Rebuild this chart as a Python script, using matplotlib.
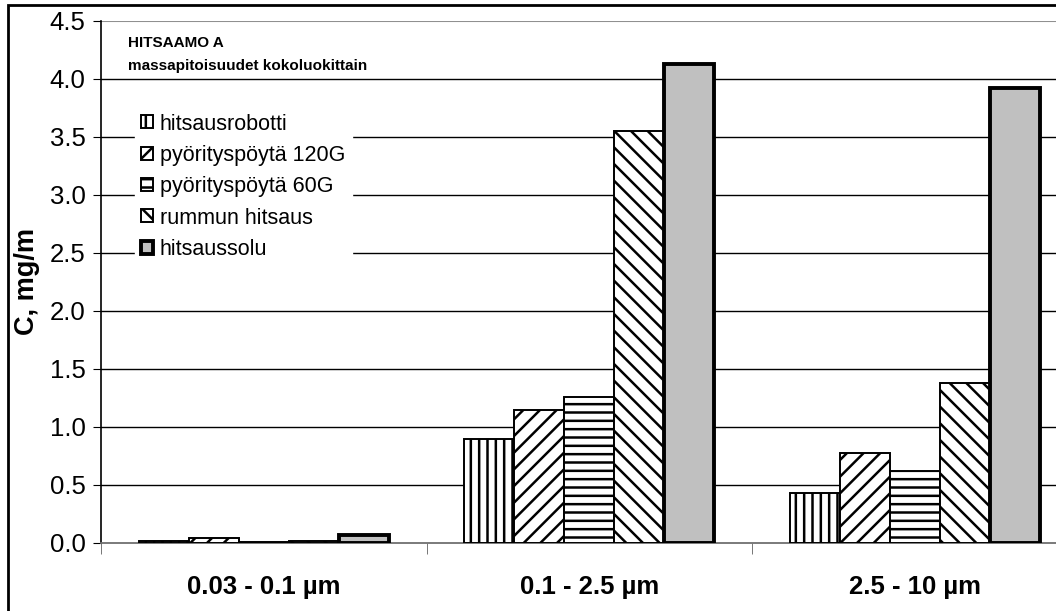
import matplotlib.pyplot as plt
from matplotlib.patches import Rectangle
import numpy as np

plt.rcParams['font.family'] = ['Liberation Sans', 'DejaVu Sans']
plt.rcParams['hatch.linewidth'] = 1.8

groups = ["0.03 - 0.1 \u00b5m", "0.1 - 2.5 \u00b5m", "2.5 - 10 \u00b5m"]
names = ["hitsausrobotti", "pyörityspöytä 120G", "pyörityspöytä 60G", "rummun hitsaus", "hitsaussolu"]
hitsausrobotti = [0.02, 0.90, 0.43]
pyoritys_120g = [0.04, 1.15, 0.78]
pyoritys_60g = [0.01, 1.26, 0.62]
rummun_hitsaus = [0.02, 3.55, 1.38]
hitsaussolu = [0.07, 4.13, 3.92]
series = [hitsausrobotti, pyoritys_120g, pyoritys_60g, rummun_hitsaus, hitsaussolu]
hatches = ["||", "//", "--", "\\\\", None]

fig = plt.figure(figsize=(10.56, 6.11), dpi=100)
ax = fig.add_axes([101 / 1056, 68 / 611, 976.5 / 1056, 522 / 611])

x = np.arange(len(groups))
w = 50 / 325.5
for i, vals in enumerate(series):
    pos = x + (i - 2) * w
    if hatches[i] is None:
        ax.bar(pos, vals, w, color="#c0c0c0", edgecolor="black", linewidth=2.8,
               label=names[i], zorder=3)
    else:
        ax.bar(pos, vals, w, color="white", edgecolor="black", hatch=hatches[i],
               linewidth=1.4, label=names[i], zorder=3)

ax.set_xlim(-0.5, 2.5)
ax.set_ylim(0, 4.5)
ticks = np.arange(0, 4.51, 0.5)
ax.set_yticks(ticks)
ax.set_yticklabels(["%.1f" % v for v in ticks], fontsize=18.5)
for v in ticks[1:-1]:
    ax.axhline(v, color="black", linewidth=1, zorder=1)
ax.axhline(4.5, color="#909090", linewidth=1.5, zorder=1)

ax.set_xticks(x)
ax.set_xticklabels(groups, fontsize=18.5, fontweight="bold")
ax.tick_params(axis="x", which="major", length=0, pad=23)
ax.set_xticks([-0.5, 0.5, 1.5], minor=True)
ax.tick_params(axis="x", which="minor", length=8, color="#606060")
ax.tick_params(axis="y", length=6, pad=5)

for s in ["top", "right"]:
    ax.spines[s].set_visible(False)
ax.spines["bottom"].set_color("#707070")
ax.spines["bottom"].set_linewidth(1.3)
ax.spines["left"].set_linewidth(1.2)

ax.set_ylabel("C, mg/m", fontsize=19.5, fontweight="bold")
ax.yaxis.set_label_coords(-0.062, 0.5)

ax.text(27 / 976.5, 0.957, "HITSAAMO A", transform=ax.transAxes, fontsize=11,
        fontweight="bold", va="center")
ax.text(27 / 976.5, 0.913, "massapitoisuudet kokoluokittain", transform=ax.transAxes,
        fontsize=11, fontweight="bold", va="center")

leg = ax.legend(loc="upper left", bbox_to_anchor=(34 / 976.5, 0.835), fontsize=15.5,
                frameon=True, fancybox=False, edgecolor="white", framealpha=1,
                handlelength=0.55, handleheight=0.55, handletextpad=0.3,
                labelspacing=0.48, borderpad=0.3, borderaxespad=0)
leg.set_zorder(5)

fig.patches.append(Rectangle((8 / 1056, -0.1), 1.2, 1.1 - 5 / 611, transform=fig.transFigure,
                             fill=False, edgecolor="black", linewidth=2))

fig.savefig("out.png", dpi=100)
